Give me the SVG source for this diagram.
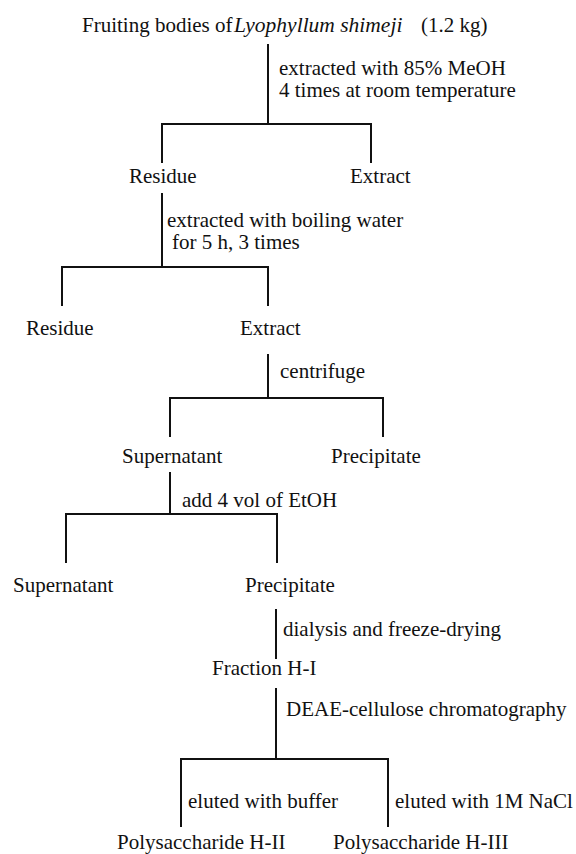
<svg xmlns="http://www.w3.org/2000/svg" width="576" height="854" viewBox="0 0 576 854">
<style>
text{font-family:"Liberation Serif","Times New Roman",serif;font-size:21px;fill:#111}
.c line{stroke:#111;stroke-width:2;fill:none}
</style>
<rect width="576" height="854" fill="#fff"/>
<g class="c" id="connectors">
<line x1="268" y1="44" x2="268" y2="124"/>
<line x1="161" y1="124" x2="372" y2="124"/>
<line x1="162" y1="123" x2="162" y2="163"/>
<line x1="371" y1="123" x2="371" y2="163"/>
<line x1="162" y1="193" x2="162" y2="267"/>
<line x1="61" y1="267" x2="269" y2="267"/>
<line x1="62" y1="266" x2="62" y2="306"/>
<line x1="268" y1="266" x2="268" y2="306"/>
<line x1="268" y1="354" x2="268" y2="398"/>
<line x1="169" y1="398" x2="384" y2="398"/>
<line x1="170" y1="397" x2="170" y2="437"/>
<line x1="383" y1="397" x2="383" y2="437"/>
<line x1="170" y1="472" x2="170" y2="514"/>
<line x1="65" y1="514" x2="278" y2="514"/>
<line x1="66" y1="513" x2="66" y2="563"/>
<line x1="277" y1="513" x2="277" y2="563"/>
<line x1="276" y1="609" x2="276" y2="659"/>
<line x1="276" y1="688" x2="276" y2="759"/>
<line x1="180" y1="759" x2="389" y2="759"/>
<line x1="181" y1="758" x2="181" y2="827"/>
<line x1="388" y1="758" x2="388" y2="827"/>
</g>
<g id="n-start"><text x="82" y="32" font-size="20.5">Fruiting bodies of<tspan x="234" font-style="italic" font-size="21.5">Lyophyllum shimeji</tspan><tspan x="421" font-size="21">(1.2 kg)</tspan></text></g>
<g id="l-meoh"><text x="279" y="75">extracted with 85% MeOH</text><text x="279" y="97">4 times at room temperature</text></g>
<g id="n-residue1"><text x="129" y="183">Residue</text></g>
<g id="n-extract1"><text x="350" y="183">Extract</text></g>
<g id="l-water"><text x="167" y="227">extracted with boiling water</text><text x="172" y="249">for 5 h, 3 times</text></g>
<g id="n-residue2"><text x="26" y="335">Residue</text></g>
<g id="n-extract2"><text x="240" y="335">Extract</text></g>
<g id="l-centrifuge"><text x="280" y="378">centrifuge</text></g>
<g id="n-super1"><text x="122" y="463">Supernatant</text></g>
<g id="n-precip1"><text x="331" y="463">Precipitate</text></g>
<g id="l-etoh"><text x="182" y="507">add 4 vol of EtOH</text></g>
<g id="n-super2"><text x="13" y="592">Supernatant</text></g>
<g id="n-precip2"><text x="245" y="592">Precipitate</text></g>
<g id="l-dialysis"><text x="283" y="636">dialysis and freeze-drying</text></g>
<g id="n-h1"><text x="212" y="675">Fraction H-I</text></g>
<g id="l-deae"><text x="286" y="716">DEAE-cellulose chromatography</text></g>
<g id="l-buffer"><text x="188" y="808">eluted with buffer</text></g>
<g id="l-nacl"><text x="395" y="808">eluted with 1M NaCl</text></g>
<g id="n-h2"><text x="117" y="849">Polysaccharide H-II</text></g>
<g id="n-h3"><text x="333" y="849">Polysaccharide H-III</text></g>
</svg>
